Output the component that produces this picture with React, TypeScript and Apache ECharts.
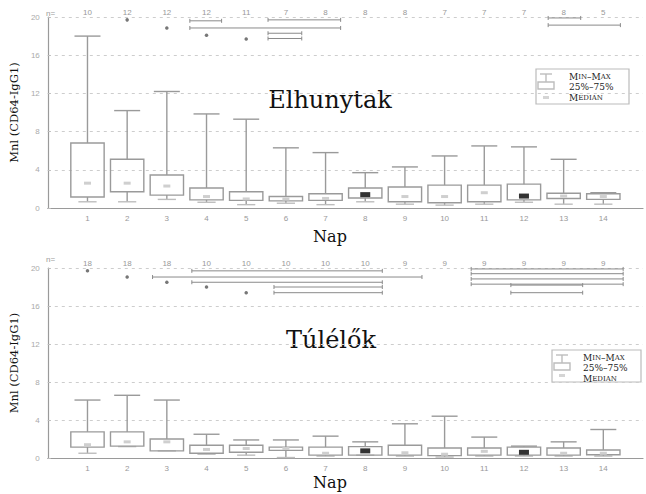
import React, { useEffect, useRef } from "react";
import * as echarts from "echarts";

// ---- data ----
const days = [1, 2, 3, 4, 5, 6, 7, 8, 9, 10, 11, 12, 13, 14];
const yTicks = [0, 4, 8, 12, 16, 20];

// Elhunytak (deceased)
const topN = [10, 12, 12, 12, 11, 7, 8, 8, 8, 7, 7, 7, 8, 5];
const topMin = [0.65, 0.65, 0.9, 0.6, 0.35, 0.5, 0.35, 0.65, 0.4, 0.3, 0.4, 0.6, 0.4, 0.4];
const topQ1 = [1.15, 1.7, 1.35, 0.85, 0.8, 0.75, 0.8, 1.05, 0.65, 0.55, 0.65, 0.85, 1.0, 0.9];
const topMed = [2.6, 2.6, 2.3, 1.2, 0.95, 0.95, 1.0, 1.4, 1.2, 1.2, 1.6, 1.25, 1.25, 1.2];
const topQ3 = [6.8, 5.1, 3.45, 2.1, 1.7, 1.2, 1.5, 2.1, 2.2, 2.4, 2.4, 2.5, 1.55, 1.5];
const topMax = [18.0, 10.2, 12.2, 9.85, 9.3, 6.3, 5.8, 3.7, 4.3, 5.45, 6.5, 6.4, 5.1, 1.6];
const topDarkMedian = [8, 12];
// significance brackets: [from, to, level]
const topBrackets = [
  [3.58, 4.38, 19.6], [5.55, 7.38, 19.7], [3.58, 7.38, 18.85],
  [5.55, 6.4, 18.3], [5.55, 6.4, 17.75], [12.61, 13.43, 19.9], [12.61, 14.43, 19.15],
];
const topMarks = [[2, 19.7], [3, 18.85], [4, 18.1], [5, 17.7]];

// Túlélők (survivors)
const botN = [18, 18, 18, 10, 10, 10, 10, 10, 9, 9, 9, 9, 9, 9];
const botMin = [0.5, 1.2, 0.75, 0.4, 0.3, 0.05, 0.2, 0.3, 0.2, 0.1, 0.2, 0.2, 0.2, 0.2];
const botQ1 = [1.15, 1.25, 0.75, 0.5, 0.6, 0.8, 0.3, 0.3, 0.3, 0.25, 0.3, 0.3, 0.3, 0.35];
const botMed = [1.4, 1.7, 1.7, 0.9, 1.0, 1.0, 0.5, 0.75, 0.55, 0.4, 0.7, 0.6, 0.5, 0.5];
const botQ3 = [2.75, 2.75, 2.0, 1.35, 1.35, 1.15, 1.15, 1.2, 1.35, 1.05, 1.05, 1.15, 1.05, 0.85];
const botMax = [6.1, 6.6, 6.1, 2.5, 1.9, 1.9, 2.3, 1.7, 3.6, 4.4, 2.2, 1.25, 1.7, 3.0];
const botDarkMedian = [8, 12];
const botBrackets = [
  [3.63, 8.43, 19.7], [2.64, 9.43, 19.05], [3.63, 8.43, 18.5],
  [5.7, 8.43, 18.0], [5.7, 8.43, 17.4],
  [10.67, 14.5, 19.9], [10.67, 14.5, 19.4], [10.67, 14.5, 18.85], [10.67, 14.5, 18.3],
  [11.67, 13.48, 18.2], [11.67, 13.48, 17.4],
];
const botMarks = [[1, 19.7], [2, 19.05], [3, 18.5], [4, 18.0], [5, 17.4]];

const GREY = "#9a9a9a";
const LIGHT = "#bdbdbd";
const SERIF = "'DejaVu Serif', 'Liberation Serif', serif";

function boxRenderer(dark: number[]) {
  return (_p: any, api: any) => {
    const d = api.value(0);
    const pMin = api.coord([d, api.value(1)]);
    const pQ1 = api.coord([d, api.value(2)]);
    const pMed = api.coord([d, api.value(3)]);
    const pQ3 = api.coord([d, api.value(4)]);
    const pMax = api.coord([d, api.value(5)]);
    const cx = pMin[0];
    const bw = api.size([0.84, 0])[0];
    const cw = bw * 0.78;
    const lw = cw * 0.7;
    const st = { stroke: GREY, lineWidth: 1.4, fill: "none" };
    const isDark = dark.indexOf(d) >= 0;
    return {
      type: "group",
      children: [
        { type: "line", shape: { x1: cx, y1: pQ3[1], x2: cx, y2: pMax[1] }, style: st },
        { type: "line", shape: { x1: cx - cw / 2, y1: pMax[1], x2: cx + cw / 2, y2: pMax[1] }, style: st },
        { type: "line", shape: { x1: cx, y1: pQ1[1], x2: cx, y2: pMin[1] }, style: st },
        { type: "line", shape: { x1: cx - lw / 2, y1: pMin[1], x2: cx + lw / 2, y2: pMin[1] }, style: { stroke: LIGHT, lineWidth: 1.4 } },
        {
          type: "rect",
          shape: { x: cx - bw / 2, y: pQ3[1], width: bw, height: Math.max(pQ1[1] - pQ3[1], 1) },
          style: { stroke: GREY, lineWidth: 1.4, fill: "rgba(255,255,255,0)" },
        },
        {
          type: "rect",
          shape: { x: cx - (isDark ? 5 : 3.5), y: pMed[1] - (isDark ? 2.5 : 1.5), width: isDark ? 10 : 7, height: isDark ? 5 : 3 },
          style: { fill: isDark ? "#333" : "#cfcfcf" },
        },
      ],
    };
  };
}

function bracketRenderer(_p: any, api: any) {
  const a = api.coord([api.value(0), api.value(2)]);
  const b = api.coord([api.value(1), api.value(2)]);
  const st = { stroke: "#8a8a8a", lineWidth: 1 };
  return {
    type: "group",
    children: [
      { type: "line", shape: { x1: a[0], y1: a[1], x2: b[0], y2: b[1] }, style: st },
      { type: "line", shape: { x1: a[0], y1: a[1] - 2, x2: a[0], y2: a[1] + 2 }, style: st },
      { type: "line", shape: { x1: b[0], y1: b[1] - 2, x2: b[0], y2: b[1] + 2 }, style: st },
    ],
  };
}

function legend(x: number, y: number, w: number, h: number, tx: number) {
  const sc = {
    c: { fontFamily: SERIF, fontSize: 9, color: "#222" },
    s: { fontFamily: SERIF, fontSize: 7, color: "#222" },
  };
  const ix = x + 10;
  return [
    { type: "rect", shape: { x, y, width: w, height: h }, style: { fill: "#fff", stroke: "#bbb", lineWidth: 1.2 } },
    { type: "line", shape: { x1: ix - 6, y1: y + 5, x2: ix + 6, y2: y + 5 }, style: { stroke: LIGHT, lineWidth: 1.4 } },
    { type: "line", shape: { x1: ix, y1: y + 5, x2: ix, y2: y + 13 }, style: { stroke: LIGHT, lineWidth: 1.4 } },
    { type: "rect", shape: { x: ix - 8, y: y + 13, width: 16, height: 7 }, style: { fill: "none", stroke: LIGHT, lineWidth: 1.4 } },
    { type: "rect", shape: { x: ix - 3, y: y + h - 8, width: 6, height: 3 }, style: { fill: "#d5d5d5" } },
    {
      type: "text", x: tx, y: y + 3,
      style: { text: "{c|M}{s|IN}{c|–}{c|M}{s|AX}", rich: sc, fill: "#222", verticalAlign: "top" },
    },
    {
      type: "text", x: tx, y: y + 13.5,
      style: { text: "25%–75%", fontFamily: SERIF, fontSize: 9, fill: "#222", verticalAlign: "top" },
    },
    {
      type: "text", x: tx, y: y + 24,
      style: { text: "{c|M}{s|EDIAN}", rich: sc, fill: "#222", verticalAlign: "top" },
    },
  ];
}

export default function App() {
  const ref = useRef<HTMLDivElement>(null);
  useEffect(() => {
    if (!ref.current) return;
    const chart = echarts.init(ref.current, null, { renderer: "svg" });
    const mkBox = (mn: number[], q1: number[], md: number[], q3: number[], mx: number[]) =>
      days.map((d, i) => [d, mn[i], q1[i], md[i], q3[i], mx[i]]);
    const yAxisBase = (gi: number) => ({
      gridIndex: gi,
      type: "value",
      min: 0,
      max: 20,
      interval: 4,
      name: "Mnl (CD64-IgG1)",
      nameLocation: "middle",
      nameGap: 25,
      nameTextStyle: { fontFamily: SERIF, fontSize: 11.5, color: "#111" },
      axisLine: { show: true, lineStyle: { color: GREY, width: 1.2 } },
      axisTick: { show: true, inside: true, length: 3, lineStyle: { color: LIGHT } },
      axisLabel: { color: "#aaa", fontSize: 8, margin: 8, formatter: (v: number) => (yTicks.indexOf(v) >= 0 ? String(v) : "") },
      splitLine: { show: true, lineStyle: { color: "#cdcdcd", type: [3, 4], width: 1.2 } },
    });
    const xBottom = (gi: number) => ({
      gridIndex: gi,
      type: "value",
      min: 0,
      max: 15,
      interval: 1,
      axisLine: { show: true, onZero: false, lineStyle: { color: GREY, width: 1.2 } },
      axisTick: { show: false },
      splitLine: { show: false },
      axisLabel: {
        color: "#999", fontSize: 8, margin: 6,
        formatter: (v: number) => (v >= 1 && v <= 14 ? String(v) : ""),
      },
    });
    const xTop = (gi: number, n: number[]) => ({
      gridIndex: gi,
      type: "value",
      position: "top",
      min: 0,
      max: 15,
      interval: 1,
      axisLine: { show: false },
      axisTick: { show: false },
      splitLine: { show: false },
      axisLabel: {
        color: "#999", fontSize: 8, margin: 1,
        formatter: (v: number) => (v >= 1 && v <= 14 ? String(n[v - 1]) : ""),
      },
    });
    chart.setOption({
      animation: false,
      backgroundColor: "#fff",
      grid: [
        { left: 40, right: 3, top: 17, bottom: 286 },
        { left: 40, right: 3, top: 268, bottom: 36 },
      ],
      xAxis: [xBottom(0), xBottom(1), xTop(0, topN), xTop(1, botN)],
      yAxis: [yAxisBase(0), yAxisBase(1)],
      series: [
        {
          type: "custom", xAxisIndex: 0, yAxisIndex: 0, renderItem: boxRenderer(topDarkMedian),
          encode: { x: 0, y: [1, 2, 3, 4, 5] }, data: mkBox(topMin, topQ1, topMed, topQ3, topMax),
        },
        {
          type: "custom", xAxisIndex: 1, yAxisIndex: 1, renderItem: boxRenderer(botDarkMedian),
          encode: { x: 0, y: [1, 2, 3, 4, 5] }, data: mkBox(botMin, botQ1, botMed, botQ3, botMax),
        },
        {
          type: "custom", xAxisIndex: 0, yAxisIndex: 0, renderItem: bracketRenderer,
          encode: { x: [0, 1], y: 2 }, data: topBrackets,
        },
        {
          type: "custom", xAxisIndex: 1, yAxisIndex: 1, renderItem: bracketRenderer,
          encode: { x: [0, 1], y: 2 }, data: botBrackets,
        },
        {
          type: "scatter", xAxisIndex: 0, yAxisIndex: 0, symbol: "circle", symbolSize: 3.5,
          itemStyle: { color: "#555" }, data: topMarks,
        },
        {
          type: "scatter", xAxisIndex: 1, yAxisIndex: 1, symbol: "circle", symbolSize: 3.5,
          itemStyle: { color: "#555" }, data: botMarks,
        },
      ],
      graphic: [
        { type: "text", x: 46, y: 13, style: { text: "n=", fontSize: 8, fill: "#999", verticalAlign: "middle" } },
        { type: "text", x: 46, y: 259, style: { text: "n=", fontSize: 8, fill: "#999", verticalAlign: "middle" } },
        { type: "text", x: 330, y: 100, style: { text: "Elhunytak", fontFamily: SERIF, fontSize: 24, fill: "#111", align: "center", verticalAlign: "middle" } },
        { type: "text", x: 331, y: 340, style: { text: "Túlélők", fontFamily: SERIF, fontSize: 24, fill: "#111", align: "center", verticalAlign: "middle" } },
        { type: "text", x: 330, y: 236, style: { text: "Nap", fontFamily: SERIF, fontSize: 16, fill: "#111", align: "center", verticalAlign: "middle" } },
        { type: "text", x: 330, y: 482, style: { text: "Nap", fontFamily: SERIF, fontSize: 16, fill: "#111", align: "center", verticalAlign: "middle" } },
        ...legend(536, 69, 93, 35, 569),
        ...legend(552, 350, 89, 32, 583),
      ],
    });
    return () => chart.dispose();
  }, []);
  return <div ref={ref} style={{ width: 646, height: 494, position: "absolute", left: 0, top: 0 }} />;
}
